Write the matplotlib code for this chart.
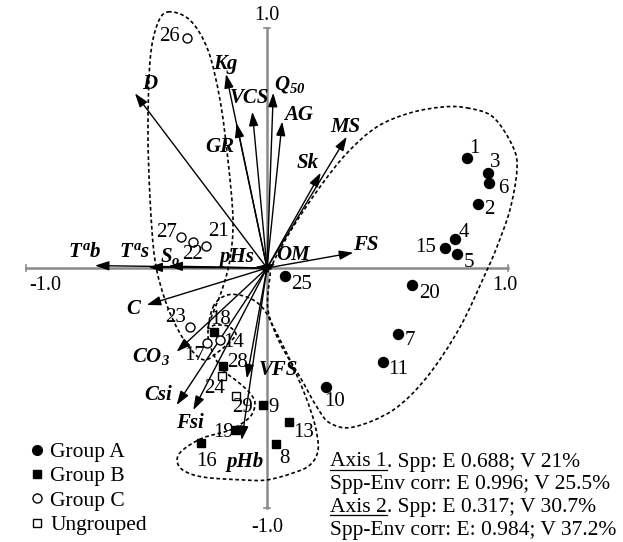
import numpy as np
import matplotlib
matplotlib.use("Agg")
import matplotlib.pyplot as plt
from matplotlib.path import Path
from matplotlib.patches import PathPatch
from matplotlib.lines import Line2D

plt.rcParams['font.family'] = ['Liberation Serif', 'DejaVu Serif']
plt.rcParams['mathtext.fontset'] = 'custom'
plt.rcParams['mathtext.rm'] = 'Liberation Serif:bold:italic'
plt.rcParams['mathtext.it'] = 'Liberation Serif:bold:italic'
plt.rcParams['mathtext.bf'] = 'Liberation Serif:bold:italic'

# ---------------- data ----------------
# sample scores (Axis 1, Axis 2)
A_ids = [1, 3, 6, 2, 4, 15, 5, 25, 20, 7, 11, 10]
A_x = [0.829, 0.918, 0.922, 0.877, 0.780, 0.739, 0.790, 0.075, 0.603, 0.545, 0.480, 0.243]
A_y = [0.457, 0.395, 0.353, 0.265, 0.119, 0.085, 0.057, -0.033, -0.071, -0.276, -0.390, -0.494]

B_ids = [18, 28, 9, 13, 19, 16, 8]
B_x = [-0.220, -0.184, -0.015, 0.091, -0.129, -0.274, 0.036]
B_y = [-0.265, -0.407, -0.571, -0.643, -0.675, -0.730, -0.735]

C_ids = [26, 27, 22, 21, 23, 17, 14]
C_x = [-0.331, -0.357, -0.308, -0.253, -0.320, -0.248, -0.195]
C_y = [0.958, 0.130, 0.110, 0.092, -0.245, -0.314, -0.300]

U_ids = [24, 29]
U_x = [-0.188, -0.129]
U_y = [-0.450, -0.532]

# environmental vectors
var_names = ['D', 'Kg', 'GR', 'VCS', '$Q_{50}$', 'AG', 'MS', 'Sk', 'FS', 'OM', 'pHs',
             '$S_o$', '$T^a$s', '$T^a$b', 'C', 'CO$_3$', 'Csi', 'Fsi', 'VFS', 'pHb']
var_x = [-0.548, -0.170, -0.126, -0.061, 0.026, 0.063, 0.331, 0.223, 0.358, 0.035, -0.050,
         -0.409, -0.492, -0.714, -0.499, -0.375, -0.375, -0.306, -0.084, -0.105]
var_y = [0.728, 0.808, 0.603, 0.651, 0.730, 0.610, 0.547, 0.397, 0.064, 0.020, 0.004,
         0.008, 0.003, 0.010, -0.154, -0.349, -0.571, -0.592, -0.460, -0.717]

# group envelopes (dashed outlines), in axis units
hullA_x = [0.830, 0.938, 1.021, 1.037, 1.008, 0.954, 0.913, 0.801, 0.664, 0.523, 0.357, 0.261,
           0.207, 0.137, 0.054, 0.004, 0.012, 0.025, 0.108, 0.220, 0.332, 0.456, 0.593, 0.730]
hullA_y = [0.667, 0.629, 0.504, 0.408, 0.242, 0.088, -0.008, -0.246, -0.454, -0.592, -0.663, -0.646,
           -0.579, -0.454, -0.313, -0.175, -0.038, 0.021, 0.171, 0.338, 0.479, 0.588, 0.646, 0.671]
hullB_x = [-0.224, -0.166, -0.083, -0.017, 0.033, 0.095, 0.158, 0.199, 0.212, 0.178, 0.108, 0.0,
           -0.100, -0.266, -0.349, -0.373, -0.349, -0.266, -0.154, -0.071, -0.050, -0.071, -0.120,
           -0.183, -0.220, -0.245]
hullB_y = [-0.163, -0.113, -0.121, -0.167, -0.258, -0.383, -0.529, -0.654, -0.758, -0.821, -0.854,
           -0.883, -0.883, -0.871, -0.842, -0.800, -0.758, -0.708, -0.675, -0.621, -0.563, -0.521,
           -0.475, -0.425, -0.363, -0.279]
hullC_x = [-0.411, -0.320, -0.245, -0.195, -0.162, -0.141, -0.154, -0.187, -0.228, -0.245, -0.216,
           -0.162, -0.129, -0.154, -0.203, -0.257, -0.307, -0.369, -0.423, -0.465, -0.485, -0.494,
           -0.485, -0.456]
hullC_y = [1.067, 1.033, 0.908, 0.700, 0.450, 0.200, 0.033, -0.092, -0.196, -0.250, -0.238,
           -0.242, -0.275, -0.308, -0.350, -0.383, -0.350, -0.258, -0.133, 0.033, 0.283, 0.575,
           0.867, 1.013]

tick_vals = [-1.0, 1.0]
legend_labels = ['Group A', 'Group B', 'Group C', 'Ungrouped']
stats_lines = [('Axis 1', '. Spp: E 0.688; V 21%'),
               (None, 'Spp-Env corr: E 0.996; V 25.5%'),
               ('Axis 2', '. Spp: E 0.317; V 30.7%'),
               (None, 'Spp-Env corr: E: 0.984; V 37.2%')]

# ---------------- layout / style ----------------
# label centres for the vectors (axis units)
var_lab = {'D': (-0.485, 0.765), 'Kg': (-0.174, 0.852), 'GR': (-0.195, 0.504),
           'VCS': (-0.071, 0.708), '$Q_{50}$': (0.095, 0.765), 'AG': (0.129, 0.638),
           'MS': (0.324, 0.588), 'Sk': (0.170, 0.438), 'FS': (0.411, 0.096),
           'OM': (0.108, 0.054), 'pHs': (-0.124, 0.046), '$S_o$': (-0.402, 0.046),
           '$T^a$s': (-0.548, 0.067), '$T^a$b': (-0.755, 0.067), 'C': (-0.556, -0.170),
           'CO$_3$': (-0.480, -0.370), 'Csi': (-0.452, -0.529), 'Fsi': (-0.320, -0.646),
           'VFS': (0.046, -0.425), 'pHb': (-0.091, -0.808)}
# sample label offsets in pixels (dx right, dy down)
pt_off = {1: (8, -10), 3: (7, -11), 6: (14, 5), 2: (11, 5), 4: (9, -7), 15: (-19, 0), 5: (12, 8),
          25: (16, 9), 20: (17, 8), 7: (12, 6), 11: (15, 8), 10: (9, 15),
          26: (-18, -2), 27: (-14, -4), 22: (0, 13), 21: (12, -14), 23: (-14, -9), 17: (-13, 12),
          14: (14, 2), 18: (7, -12), 28: (15, -3), 9: (10, 2), 13: (15, 10), 19: (-12, 2),
          16: (6, 18), 8: (9, 14), 24: (-7, 12), 29: (7, 12)}

W, H = 623, 542
fig = plt.figure(figsize=(W / 100, H / 100), dpi=100)
ax = fig.add_axes([0, 0, 1, 1])
ax.set_xlim(-267 / 241, (W - 267) / 241)
ax.set_ylim((268 - H) / 240, 268 / 240)
ax.axis('off')


def closed_path(xs, ys):
    P = np.column_stack([xs, ys])
    n = len(P)
    verts = [P[0]]
    codes = [Path.MOVETO]
    for i in range(n):
        p0, p1, p2, p3 = P[i - 1], P[i], P[(i + 1) % n], P[(i + 2) % n]
        verts += [p1 + (p2 - p0) / 6, p2 - (p3 - p1) / 6, p2]
        codes += [Path.CURVE4] * 3
    return Path(verts, codes)


for hx, hy in [(hullA_x, hullA_y), (hullB_x, hullB_y), (hullC_x, hullC_y)]:
    ax.add_patch(PathPatch(closed_path(hx, hy), fill=False, ec='black', lw=1.2,
                           ls=(0, (2.2, 1.6)), zorder=2))

# axes lines
axc = '#8a8a8a'
ax.plot([tick_vals[0], tick_vals[1]], [0, 0], color=axc, lw=1.8, zorder=1)
ax.plot([0, 0], [tick_vals[0], tick_vals[1]], color=axc, lw=1.8, zorder=1)
for v in tick_vals:
    ax.plot([v, v], [-0.012, 0.012], color=axc, lw=1.2, zorder=1)
    ax.plot([-0.012, 0.012], [v, v], color=axc, lw=1.2, zorder=1)
tfs = 14.5
ax.annotate(f'{tick_vals[0]:.1f}', (tick_vals[0], 0), xytext=(19 * 0.72, -17 * 0.72),
            textcoords='offset points', ha='center', va='center', fontsize=tfs)
ax.annotate(f'{tick_vals[1]:.1f}', (tick_vals[1], 0), xytext=(-3 * 0.72, -17 * 0.72),
            textcoords='offset points', ha='center', va='center', fontsize=tfs)
ax.annotate(f'{tick_vals[1]:.1f}', (0, tick_vals[1]), xytext=(0, 13 * 0.72),
            textcoords='offset points', ha='center', va='center', fontsize=tfs)
ax.annotate(f'{tick_vals[0]:.1f}', (0, tick_vals[0]), xytext=(0, -20 * 0.72),
            textcoords='offset points', ha='center', va='center', fontsize=tfs)

# vectors
for name, vx, vy in zip(var_names, var_x, var_y):
    ax.annotate('', xy=(vx, vy), xytext=(0, 0),
                arrowprops=dict(arrowstyle='-|>,head_length=0.6,head_width=0.2',
                                lw=1.0, color='black', shrinkA=0, shrinkB=0,
                                mutation_scale=14), zorder=4)
    lx, ly = var_lab[name]
    ax.text(lx, ly, name, ha='center', va='center', fontsize=15,
            fontweight='bold', fontstyle='italic', zorder=6)

# samples
ms = 7.2
ax.plot(A_x, A_y, 'o', ms=ms, color='black', ls='none', zorder=5)
ax.plot(B_x, B_y, 's', ms=6.3, color='black', ls='none', zorder=5)
ax.plot(C_x, C_y, 'o', ms=6.5, mfc='white', mec='black', mew=1.0, ls='none', zorder=5)
ax.plot(U_x, U_y, 's', ms=6.0, mfc='white', mec='black', mew=1.0, ls='none', zorder=5)
for ids, xs, ys in [(A_ids, A_x, A_y), (B_ids, B_x, B_y), (C_ids, C_x, C_y), (U_ids, U_x, U_y)]:
    for i, x, y in zip(ids, xs, ys):
        dx, dy = pt_off[i]
        ax.annotate(str(i), (x, y), xytext=(dx * 0.72, -dy * 0.72), textcoords='offset points',
                    ha='center', va='center', fontsize=15, zorder=6)

# legend
handles = [Line2D([], [], marker='o', ls='none', color='black', ms=7),
           Line2D([], [], marker='s', ls='none', color='black', ms=6),
           Line2D([], [], marker='o', ls='none', mfc='white', mec='black', ms=6.5),
           Line2D([], [], marker='s', ls='none', mfc='white', mec='black', ms=6)]
fig.legend(handles, legend_labels, loc='upper left', bbox_to_anchor=(31 / W, 1 - 442 / H),
           frameon=False, fontsize=15.5, handlelength=0.6, handletextpad=0.3,
           labelspacing=0.2, borderpad=0, borderaxespad=0)

# statistics text
fig.canvas.draw()
renderer = fig.canvas.get_renderer()
x0 = 330 / W
sfs = 15.5
for k, (head, rest) in enumerate(stats_lines):
    yc = 1 - (462 + k * 22.8) / H
    if head is not None:
        t1 = fig.text(x0, yc, head, ha='left', va='center', fontsize=sfs)
        bb = t1.get_window_extent(renderer)
        uy = (bb.y0 + 2) / H
        fig.add_artist(Line2D([bb.x0 / W, bb.x1 / W], [uy, uy], color='black', lw=0.9))
        fig.text(bb.x1 / W, yc, rest, ha='left', va='center', fontsize=sfs)
    else:
        fig.text(x0, yc, rest, ha='left', va='center', fontsize=sfs)

fig.savefig('out.png', dpi=100)
